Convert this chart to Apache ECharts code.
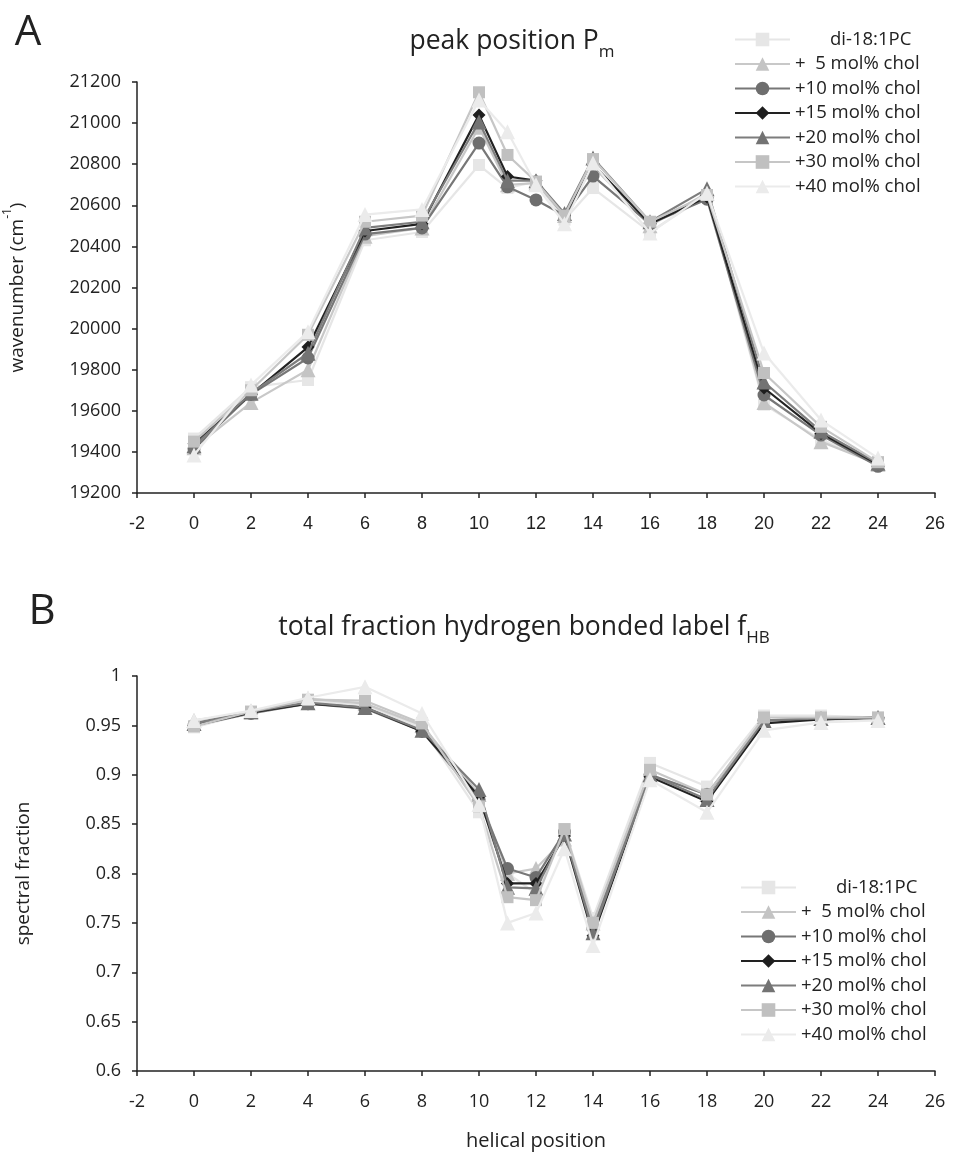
<!DOCTYPE html>
<html>
<head>
<meta charset="utf-8">
<script src="https://cdn.jsdelivr.net/npm/echarts@6/dist/echarts.min.js"></script>
<style>
html,body{margin:0;padding:0;background:#fff;}
#c{width:955px;height:1153px;}
</style>
</head>
<body>
<div id="c"></div>
<script>
// ---- data ----
const positions = [0, 2, 4, 6, 8, 10, 11, 12, 13, 14, 16, 18, 20, 22, 24];
const seriesNames = ['di-18:1PC', '+  5 mol% chol', '+10 mol% chol', '+15 mol% chol', '+20 mol% chol', '+30 mol% chol', '+40 mol% chol'];

// panel A: peak position (wavenumber, cm-1)
const peakDi   = [19465, 19715, 19750, 20430, 20470, 20796, 20684, 20715, 20530, 20684, 20470, 20650, 19630, 19460, 19350];
const peak5    = [19420, 19640, 19800, 20450, 20490, 20980, 20700, 20708, 20550, 20790, 20500, 20660, 19640, 19450, 19340];
const peak10   = [19415, 19680, 19857, 20460, 20490, 20903, 20690, 20626, 20550, 20742, 20510, 20630, 19677, 19482, 19330];
const peak15   = [19440, 19680, 19910, 20475, 20510, 21040, 20740, 20720, 20550, 20800, 20510, 20640, 19711, 19490, 19340];
const peak20   = [19430, 19685, 19880, 20490, 20520, 21005, 20720, 20720, 20560, 20830, 20520, 20680, 19740, 19500, 19345];
const peak30   = [19450, 19700, 19970, 20520, 20550, 21150, 20845, 20715, 20550, 20825, 20520, 20650, 19784, 19522, 19350];
const peak40   = [19385, 19725, 19985, 20555, 20580, 21112, 20958, 20700, 20510, 20806, 20465, 20660, 19881, 19555, 19370];

// panel B: total fraction hydrogen bonded label
const fracDi   = [0.948, 0.963, 0.975, 0.970, 0.948, 0.862, 0.800, 0.780, 0.845, 0.755, 0.912, 0.888, 0.960, 0.960, 0.958];
const frac5    = [0.955, 0.963, 0.977, 0.972, 0.950, 0.880, 0.800, 0.805, 0.835, 0.750, 0.900, 0.880, 0.955, 0.957, 0.958];
const frac10   = [0.950, 0.962, 0.972, 0.967, 0.944, 0.875, 0.805, 0.796, 0.842, 0.745, 0.900, 0.880, 0.955, 0.956, 0.957];
const frac15   = [0.950, 0.963, 0.972, 0.968, 0.944, 0.878, 0.790, 0.790, 0.838, 0.737, 0.898, 0.873, 0.952, 0.956, 0.958];
const frac20   = [0.952, 0.964, 0.973, 0.968, 0.945, 0.885, 0.786, 0.785, 0.840, 0.740, 0.900, 0.875, 0.955, 0.957, 0.958];
const frac30   = [0.949, 0.964, 0.976, 0.975, 0.952, 0.868, 0.776, 0.773, 0.845, 0.750, 0.905, 0.880, 0.958, 0.958, 0.958];
const frac40   = [0.955, 0.965, 0.978, 0.989, 0.962, 0.870, 0.750, 0.760, 0.825, 0.727, 0.895, 0.862, 0.945, 0.953, 0.955];

const peakSets = [peakDi, peak5, peak10, peak15, peak20, peak30, peak40];
const fracSets = [fracDi, frac5, frac10, frac15, frac20, frac30, frac40];

// ---- styles ----
const symbols     = ['rect', 'triangle', 'circle', 'diamond', 'triangle', 'rect', 'triangle'];
const symbolSizes = [12, 15, 13, 13, 15, 12, 15];
const markerColors = ['#e6e6e6', '#c4c4c4', '#6e6e6e', '#1e1e1e', '#737373', '#c0c0c0', '#ebebeb'];
const lineColors   = ['#e6e6e6', '#c8c8c8', '#777777', '#222222', '#7d7d7d', '#c6c6c6', '#ebebeb'];
const FONT = '"Open Sans", "Noto Sans", sans-serif';

function makeSeries(sets, gi) {
  return sets.map((vals, i) => ({
    name: seriesNames[i],
    type: 'line',
    xAxisIndex: gi, yAxisIndex: gi,
    data: positions.map((p, k) => [p, vals[k]]),
    symbol: symbols[i],
    symbolSize: symbolSizes[i],
    showAllSymbol: true,
    itemStyle: { color: markerColors[i] },
    lineStyle: { color: lineColors[i], width: 2.2 },
    z: 2 + i
  }));
}

function legendCfg(left, top) {
  return {
    orient: 'vertical', left: left, top: top,
    itemWidth: 55, itemHeight: 17, itemGap: 5.5,
    selectedMode: false,
    data: seriesNames,
    formatter: n => n === 'di-18:1PC' ? '{i|}' + n : n,
    textStyle: { fontFamily: FONT, fontSize: 18.5, color: '#222', lineHeight: 17, rich: { i: { width: 35, lineHeight: 17 } } }
  };
}

function xAxisCfg(gi, labelFont) {
  return {
    type: 'value', gridIndex: gi, min: -2, max: 26, interval: 2,
    axisLine: { onZero: false, lineStyle: { color: '#222', width: 1.5 } },
    axisTick: { length: 5, lineStyle: { color: '#222', width: 1.5 } },
    axisLabel: { margin: 22, fontFamily: labelFont, fontSize: 18, color: '#222' },
    splitLine: { show: false }
  };
}

const chart = echarts.init(document.getElementById('c'), null, { renderer: 'canvas' });
const option = {
  animation: false,
  backgroundColor: '#fff',
  graphic: [
    { type: 'text', x: 28, y: 33, style: { text: 'A', font: '42px ' + FONT, fill: '#222', align: 'center', verticalAlign: 'middle' } },
    { type: 'text', x: 42, y: 612, style: { text: 'B', font: '42px ' + FONT, fill: '#222', align: 'center', verticalAlign: 'middle' } },
    { type: 'text', x: 512, y: 44, style: {
        text: '{t|peak position P}{s|m}', align: 'center', verticalAlign: 'middle',
        rich: { t: { fontFamily: FONT, fontSize: 26.5, fill: '#222', verticalAlign: 'bottom', padding: [0, 0, 6, 0] },
                s: { fontFamily: FONT, fontSize: 17, fill: '#222', verticalAlign: 'bottom' } } } },
    { type: 'text', x: 524, y: 630, style: {
        text: '{t|total fraction hydrogen bonded label f}{s|HB}', align: 'center', verticalAlign: 'middle',
        rich: { t: { fontFamily: FONT, fontSize: 26.5, fill: '#222', verticalAlign: 'bottom', padding: [0, 0, 6, 0] },
                s: { fontFamily: FONT, fontSize: 17, fill: '#222', verticalAlign: 'bottom' } } } }
  ],
  legend: [legendCfg(729, 25), legendCfg(735, 873)],
  grid: [
    { left: 137, top: 82, width: 798, height: 411, outerBoundsMode: 'none', containLabel: false },
    { left: 137, top: 676, width: 798, height: 395, outerBoundsMode: 'none', containLabel: false }
  ],
  xAxis: [
    xAxisCfg(0, '"Liberation Sans", Arial, sans-serif'),
    Object.assign(xAxisCfg(1, FONT), {
      name: 'helical position', nameLocation: 'middle', nameGap: 60,
      nameTextStyle: { fontFamily: FONT, fontSize: 20, color: '#222' }
    })
  ],
  yAxis: [
    {
      type: 'value', gridIndex: 0, min: 19200, max: 21200, interval: 200,
      name: '{t|wavenumber (cm}{p|-1}{t|)}', nameLocation: 'middle', nameGap: 110, nameRotate: 90,
      nameTextStyle: { rich: {
        t: { fontFamily: FONT, fontSize: 19, color: '#222', verticalAlign: 'top', padding: [6, 0, 0, 0] },
        p: { fontFamily: FONT, fontSize: 12, color: '#222', verticalAlign: 'top' } } },
      axisLine: { show: true, onZero: false, lineStyle: { color: '#222', width: 1.5 } },
      axisTick: { show: true, length: 5, lineStyle: { color: '#222', width: 1.5 } },
      axisLabel: { margin: 16, fontFamily: FONT, fontSize: 18, color: '#222', formatter: v => String(v) },
      splitLine: { show: false }
    },
    {
      type: 'value', gridIndex: 1, min: 0.6, max: 1, interval: 0.05,
      name: 'spectral fraction', nameLocation: 'middle', nameGap: 104, nameRotate: 90,
      nameTextStyle: { fontFamily: FONT, fontSize: 19, color: '#222' },
      axisLine: { show: true, onZero: false, lineStyle: { color: '#222', width: 1.5 } },
      axisTick: { show: true, length: 5, lineStyle: { color: '#222', width: 1.5 } },
      axisLabel: { margin: 16, fontFamily: FONT, fontSize: 18, color: '#222', formatter: v => String(+v.toFixed(2)) },
      splitLine: { show: false }
    }
  ],
  series: makeSeries(peakSets, 0).concat(makeSeries(fracSets, 1))
};
chart.setOption(option);
</script>
</body>
</html>
